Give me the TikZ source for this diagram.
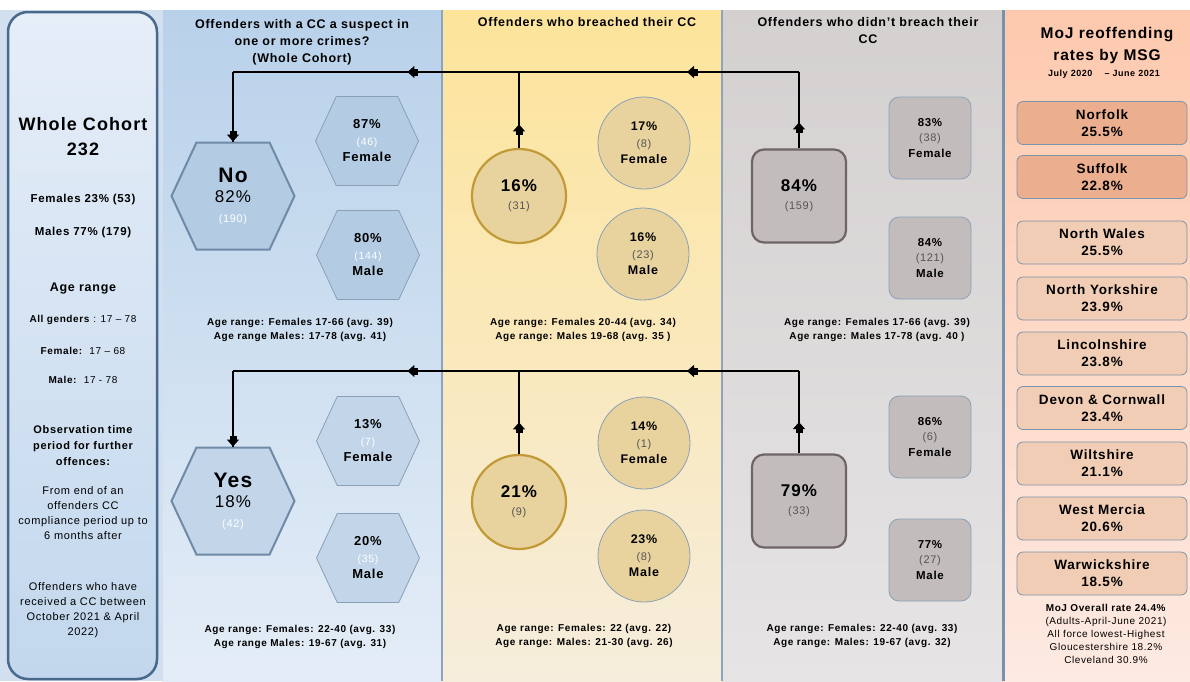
\documentclass[tikz,border=0pt]{standalone}
\usepackage{fontspec}
\setmainfont{Liberation Sans}[LetterSpace=6]
\usepackage{tikz}
\usetikzlibrary{shapes,arrows.meta,decorations.markings}
\usepackage{color}
\definecolor{blueTop}{HTML}{B8D1EA}
\definecolor{blueBot}{HTML}{E4EDF7}
\definecolor{yelTop}{HTML}{FDE49B}
\definecolor{yelBot}{HTML}{F6EDDC}
\definecolor{grayTop}{HTML}{D4D0D0}
\definecolor{grayBot}{HTML}{E6E4E5}
\definecolor{peachTop}{HTML}{FDC9AE}
\definecolor{peachBot}{HTML}{FDEAE2}
\definecolor{leftTop}{HTML}{E6EEF8}
\definecolor{leftBot}{HTML}{C2D7ED}
\definecolor{leftEdge}{HTML}{46698C}
\definecolor{framechk}{HTML}{D2DFEE}
\definecolor{edgeblue}{HTML}{8BA5C0}
\definecolor{edgedark}{HTML}{7891AC}
\definecolor{hexfill}{HTML}{B3CBE3}
\definecolor{hexfillB}{HTML}{C2D5E9}
\definecolor{hexedge}{HTML}{6F8AA6}
\definecolor{subedge}{HTML}{8AA0B6}
\definecolor{circfill}{HTML}{E8D39F}
\definecolor{circedge}{HTML}{C19A36}
\definecolor{boxfill}{HTML}{C2BCBC}
\definecolor{boxedge}{HTML}{6F6567}
\definecolor{msgDark}{HTML}{EBAE8E}
\definecolor{msgLight}{HTML}{F0CDB4}
\definecolor{msgedge}{HTML}{7F94AA}
\definecolor{numgray}{HTML}{555555}
\newcommand{\fsz}[2]{\fontsize{#1}{#2}\selectfont}
\newcommand{\subnum}[3]{{\mdseries\fsz{#1}{#1}\color{#2}#3}}
\tikzstyle{head}=[align=center, font=\bfseries\fsz{12.5}{17}]
\tikzstyle{agetxt}=[align=center, font=\bfseries\fsz{10}{14.5}]
\tikzstyle{lefttxt}=[align=center, font=\fsz{11}{15}]
\tikzstyle{hexbase}=[signal, signal to=west and east, signal pointer angle=130, inner sep=0pt, align=center]
\tikzstyle{bighex}=[hexbase, draw=hexedge, line width=2pt, minimum width=123pt, minimum height=107pt, font=\fsz{17}{20}]
\tikzstyle{subhex}=[hexbase, draw=subedge, line width=0.8pt, minimum width=103pt, minimum height=89pt, font=\bfseries\fsz{13}{16.5}]
\tikzstyle{bigcirc}=[circle, draw=circedge, fill=circfill, line width=2.2pt, minimum size=94pt, inner sep=0pt, align=center, font=\bfseries\fsz{17}{18}]
\tikzstyle{subcirc}=[circle, draw=subedge, fill=circfill, line width=0.8pt, minimum size=92pt, inner sep=0pt, align=center, font=\bfseries\fsz{12.5}{16.5}]
\tikzstyle{bigbox}=[rectangle, rounded corners=12pt, draw=boxedge, fill=boxfill, line width=2.2pt, minimum width=94pt, minimum height=93pt, align=center, font=\bfseries\fsz{17}{18}]
\tikzstyle{subbox}=[rectangle, rounded corners=10pt, draw=subedge, fill=boxfill, line width=0.8pt, minimum size=82pt, align=center, font=\bfseries\fsz{11.5}{15.5}]
\tikzstyle{msgbox}=[rectangle, rounded corners=6pt, draw=msgedge, line width=0.8pt, minimum width=170pt, minimum height=43pt, align=center, font=\bfseries\fsz{13.5}{17}]
\tikzstyle{link}=[line width=1.4pt, color=black]
\tikzset{midtip/.style={postaction={decorate}, decoration={markings, mark=at position #1 with {\fill (-11pt,-3.5pt) rectangle (-6pt,3.5pt); \arrow{Triangle[length=7pt,width=12pt]}}}}}
\begin{document}
\begin{tikzpicture}[x=1pt,y=1pt]
    \useasboundingbox (0,0) rectangle (1190,-681);
    \fill[white] (0,0) rectangle (1190,-681);

    % background panels, using a loop
    \fill[framechk] (0,-10) rectangle (162,-681);
    \foreach \xa/\xb/\ctop/\cbot in {162/442/blueTop/blueBot, 442/722/yelTop/yelBot, 722/1003/grayTop/grayBot, 1003/1190/peachTop/peachBot}{
      \shade[top color=\ctop, bottom color=\cbot] (\xa,-10) rectangle (\xb,-681);
    }
    \draw[line width=1.5pt, color=framechk] (162,-10) -- (162,-681);
    \foreach \x in {442, 722}{
      \draw[line width=2pt, color=edgeblue] (\x,-10) -- (\x,-681);
    }
    \draw[line width=3pt, color=edgedark] (1003,-10) -- (1003,-681);

    % whole cohort box
    \shade[top color=leftTop, bottom color=leftBot, rounded corners=20pt] (8,-12) rectangle (157,-679);
    \draw[line width=2.5pt, color=leftEdge, rounded corners=20pt] (8,-12) rectangle (157,-679);
    \node[align=center, font=\bfseries\fsz{18}{25}] (cohort) at (83,-137) {Whole Cohort\\232};
    \node[lefttxt, font=\bfseries\fsz{11.5}{15}] (cohortF) at (83,-200) {Females 23\% (53)};
    \node[lefttxt, font=\bfseries\fsz{11.5}{15}] (cohortM) at (83,-233) {Males 77\% (179)};
    \node[lefttxt, font=\bfseries\fsz{12.5}{15}] (ageHd) at (83,-289) {Age range};
    \node[lefttxt, font=\fsz{10}{14}] (ageAll) at (83,-320) {\textbf{All genders} : 17 -- 78};
    \node[lefttxt, font=\fsz{10}{14}] (ageF) at (83,-351) {\textbf{Female:}\ \ 17 -- 68};
    \node[lefttxt, font=\fsz{10}{14}] (ageM) at (83,-380) {\textbf{Male:}\ \ 17 - 78};
    \node[lefttxt, font=\bfseries\fsz{11}{16}] (obs) at (83,-446) {Observation time\\period for further\\offences:};
    \node[lefttxt] (obsFrom) at (83,-513.5) {From end of an\\offenders CC\\compliance period up to\\6 months after};
    \node[lefttxt] (recv) at (83,-610) {Offenders who have\\received a CC between\\October 2021 \& April\\2022)};

    % column headings
    \node[head] (hdNo) at (302,-42) {Offenders with a CC a suspect in\\one or more crimes?\\(Whole Cohort)};
    \node[head] (hdBr) at (587,-22) {Offenders who breached their CC};
    \node[head] (hdNb) at (868,-31) {Offenders who didn’t breach their\\CC};
    \node[align=center, font=\bfseries\fsz{15.5}{22}] (hdMoj) at (1107,-45) {MoJ reoffending\\rates by MSG};
    \node[font=\bfseries\fsz{9}{11}] (hdDate) at (1104,-74) {July 2020\ \ \ \ -- June 2021};

    % top row: no
    \node[bighex, fill=hexfill] (noA) at (233,-196) {{\fsz{21}{21}\bfseries No}\\82\%\\\subnum{11}{white}{(190)}};
    \node[subhex, fill=hexfill] (noAf) at (367,-141) {87\%\\\subnum{10.5}{white}{(46)}\\Female};
    \node[subhex, fill=hexfill] (noAm) at (368,-255) {80\%\\\subnum{10.5}{white}{(144)}\\Male};
    \node[bigcirc] (brA) at (519,-196) {16\%\\\subnum{11}{numgray}{(31)}};
    \node[subcirc] (brAf) at (644,-143) {17\%\\\subnum{11}{numgray}{(8)}\\Female};
    \node[subcirc] (brAm) at (643,-254) {16\%\\\subnum{11}{numgray}{(23)}\\Male};
    \node[bigbox] (nbA) at (799,-196) {84\%\\\subnum{11}{numgray}{(159)}};
    \node[subbox] (nbAf) at (930,-138) {83\%\\\subnum{11}{numgray}{(38)}\\Female};
    \node[subbox] (nbAm) at (930,-258) {84\%\\\subnum{11}{numgray}{(121)}\\Male};
    \node[agetxt] (ageNoA) at (300,-330) {Age range: Females 17-66 (avg. 39)\\Age range Males: 17-78 (avg. 41)};
    \node[agetxt] (ageBrA) at (583,-330) {Age range: Females 20-44 (avg. 34)\\Age range: Males 19-68 (avg. 35 )};
    \node[agetxt] (ageNbA) at (877,-330) {Age range: Females 17-66 (avg. 39)\\Age range: Males 17-78 (avg. 40 )};

    % bottom row: yes
    \node[bighex, fill=hexfillB] (yesB) at (233,-501) {{\fsz{21}{21}\bfseries Yes}\\18\%\\\subnum{11}{white}{(42)}};
    \node[subhex, fill=hexfillB] (yesBf) at (368,-441) {13\%\\\subnum{10.5}{white}{(7)}\\Female};
    \node[subhex, fill=hexfillB] (yesBm) at (368,-558) {20\%\\\subnum{10.5}{white}{(35)}\\Male};
    \node[bigcirc] (brB) at (519,-502) {21\%\\\subnum{11}{numgray}{(9)}};
    \node[subcirc] (brBf) at (644,-443) {14\%\\\subnum{11}{numgray}{(1)}\\Female};
    \node[subcirc] (brBm) at (644,-556) {23\%\\\subnum{11}{numgray}{(8)}\\Male};
    \node[bigbox] (nbB) at (799,-501) {79\%\\\subnum{11}{numgray}{(33)}};
    \node[subbox] (nbBf) at (930,-437) {86\%\\\subnum{11}{numgray}{(6)}\\Female};
    \node[subbox] (nbBm) at (930,-560) {77\%\\\subnum{11}{numgray}{(27)}\\Male};
    \node[agetxt] (ageYesB) at (300,-637) {Age range: Females: 22-40 (avg. 33)\\Age range Males: 19-67 (avg. 31)};
    \node[agetxt] (ageBrB) at (584,-636) {Age range: Females: 22 (avg. 22)\\Age range: Males: 21-30 (avg. 26)};
    \node[agetxt] (ageNbB) at (862,-636) {Age range: Females: 22-40 (avg. 33)\\Age range: Males: 19-67 (avg. 32)};

    % connectors
    \coordinate (tA) at (799,-72);
    \coordinate (mA) at (519,-72);
    \coordinate (lA) at (233,-72);
    \draw[link, midtip=0.34] (nbA.north) -- (tA);
    \draw[link, midtip=0.31] (brA.north) -- (mA);
    \draw[link, midtip=0.4] (tA) -- (mA);
    \draw[link, midtip=0.39] (mA) -- (lA);
    \draw[link, midtip=1] (lA) -- (noA.north);
    \coordinate (tB) at (799,-371);
    \coordinate (mB) at (519,-371);
    \coordinate (lB) at (233,-371);
    \draw[link, midtip=0.38] (nbB.north) -- (tB);
    \draw[link, midtip=0.38] (brB.north) -- (mB);
    \draw[link, midtip=0.4] (tB) -- (mB);
    \draw[link, midtip=0.39] (mB) -- (lB);
    \draw[link, midtip=1] (lB) -- (yesB.north);

    % MoJ rates, using a loop
    \foreach \area/\rate/\y/\fillc [count=\i] in {Norfolk/25.5/123/msgDark, Suffolk/22.8/177/msgDark, North Wales/25.5/242.5/msgLight, North Yorkshire/23.9/298.5/msgLight, Lincolnshire/23.8/353.5/msgLight, Devon \& Cornwall/23.4/408/msgLight, Wiltshire/21.1/463.5/msgLight, West Mercia/20.6/518.5/msgLight, Warwickshire/18.5/573.5/msgLight}{
      \node[msgbox, fill=\fillc] (msg\i) at (1102,-\y) {\area\\\rate\%};
    }
    \node[align=center, font=\fsz{10}{13}] (mojAll) at (1106,-634) {\textbf{MoJ Overall rate 24.4\%}\\(Adults-April-June 2021)\\All force lowest-Highest\\Gloucestershire 18.2\%\\Cleveland 30.9\%};
  \end{tikzpicture}
\end{document}
